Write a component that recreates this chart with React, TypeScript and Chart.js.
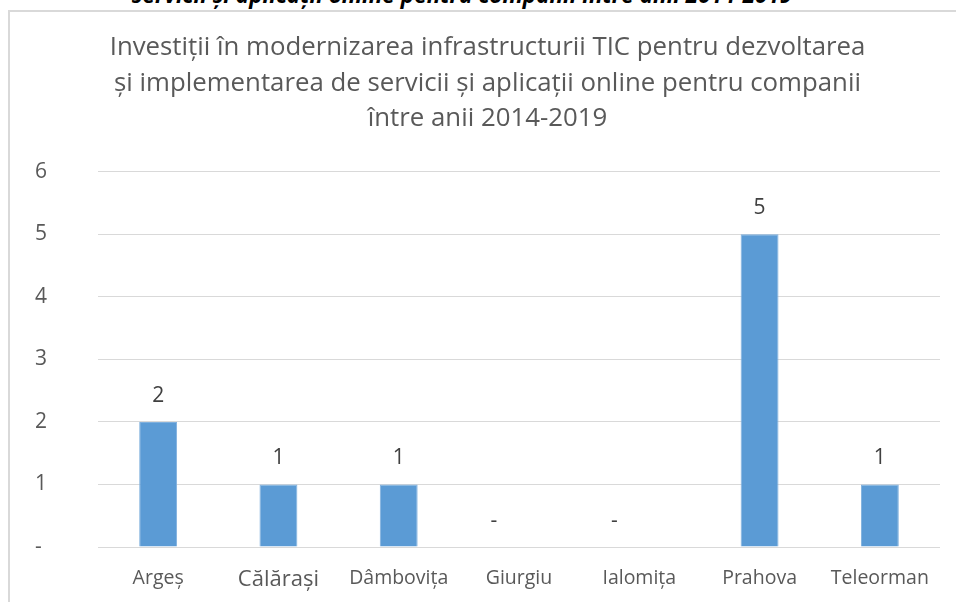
import React, { useEffect, useRef } from "react";
import { Chart, registerables } from "chart.js";

Chart.register(...registerables);

const categories = ["Argeș", "Călărași", "Dâmbovița", "Giurgiu", "Ialomița", "Prahova", "Teleorman"];
const values = [2, 1, 1, 0, 0, 5, 1];
const titleLines = [
  "Investiții în modernizarea infrastructurii TIC pentru dezvoltarea",
  "și implementarea de servicii și aplicații online pentru companii",
  "între anii 2014-2019",
];
const headerText = "servicii și aplicații online pentru companii între anii 2014-2019";

const FONT = "'Open Sans', 'Noto Sans', sans-serif";

const dataLabels = {
  id: "dataLabels",
  afterDatasetsDraw(chart: any) {
    const ctx = chart.ctx;
    const meta = chart.getDatasetMeta(0);
    const data = chart.data.datasets[0].data as number[];
    ctx.save();
    ctx.fillStyle = "#404040";
    ctx.font = `21px ${FONT}`;
    ctx.textAlign = "center";
    ctx.textBaseline = "middle";
    meta.data.forEach((bar: any, i: number) => {
      const v = data[i];
      const txt = v === 0 ? "-" : String(v);
      const dx = v === 0 ? -25 : 0;
      ctx.fillText(txt, bar.x + dx, bar.y - 26);
    });
    ctx.restore();
  },
};

export default function App() {
  const ref = useRef<HTMLCanvasElement>(null);
  useEffect(() => {
    if (!ref.current) return;
    const chart = new Chart(ref.current, {
      type: "bar",
      data: {
        labels: categories,
        datasets: [
          {
            data: values,
            backgroundColor: "#5b9bd5",
            borderColor: "#7fb0de",
            borderWidth: 1,
            barPercentage: 0.63,
            categoryPercentage: 0.5,
          },
        ],
      },
      plugins: [dataLabels],
      options: {
        responsive: false,
        animation: false,
        layout: { padding: { left: 35, right: 16, bottom: 10, top: 0 } },
        plugins: {
          legend: { display: false },
          tooltip: { enabled: false },
          title: {
            display: true,
            text: titleLines,
            color: "#595959",
            font: { family: FONT, size: 25.8, weight: "normal", lineHeight: 1.38 },
            padding: { top: 30, bottom: 35 },
          },
        },
        scales: {
          x: {
            grid: { display: false, drawTicks: false },
            border: { display: false },
            ticks: {
              color: "#595959",
              padding: 20,
              font: (c: any) => ({ family: FONT, size: c.index === 1 ? 22 : 19.5 }),
            },
            afterFit: (s: any) => {
              s.height = 45;
            },
          },
          y: {
            min: 0,
            max: 6,
            ticks: {
              stepSize: 1,
              autoSkip: false,
              color: "#595959",
              padding: 0,
              crossAlign: "far",
              font: { family: FONT, size: 21 },
              callback: (v: any) => (Number(v) === 0 ? "-" : String(v)),
            },
            grid: { color: "#d9d9d9", drawTicks: false, lineWidth: 1 },
            border: { display: false },
            afterFit: (s: any) => {
              s.width = 63;
            },
          },
        },
      },
    });
    return () => chart.destroy();
  }, []);

  return (
    <div style={{ position: "fixed", left: 0, top: 0, width: 956, height: 602, overflow: "hidden", background: "#fff" }}>
      <div
        style={{
          position: "absolute",
          left: 0,
          width: 924,
          top: -17,
          textAlign: "center",
          fontFamily: FONT,
          fontWeight: "bold",
          fontStyle: "italic",
          fontSize: 22.5,
          lineHeight: "24px",
          color: "#000",
          whiteSpace: "nowrap",
        }}
      >
        {headerText}
      </div>
      <div
        style={{
          position: "absolute",
          left: 8,
          top: 10,
          width: 1000,
          height: 700,
          borderLeft: "2px solid #d9d9d9",
          borderTop: "2px solid #d9d9d9",
        }}
      />
      <canvas ref={ref} width={956} height={602} style={{ position: "absolute", left: 0, top: 0 }} />
    </div>
  );
}
